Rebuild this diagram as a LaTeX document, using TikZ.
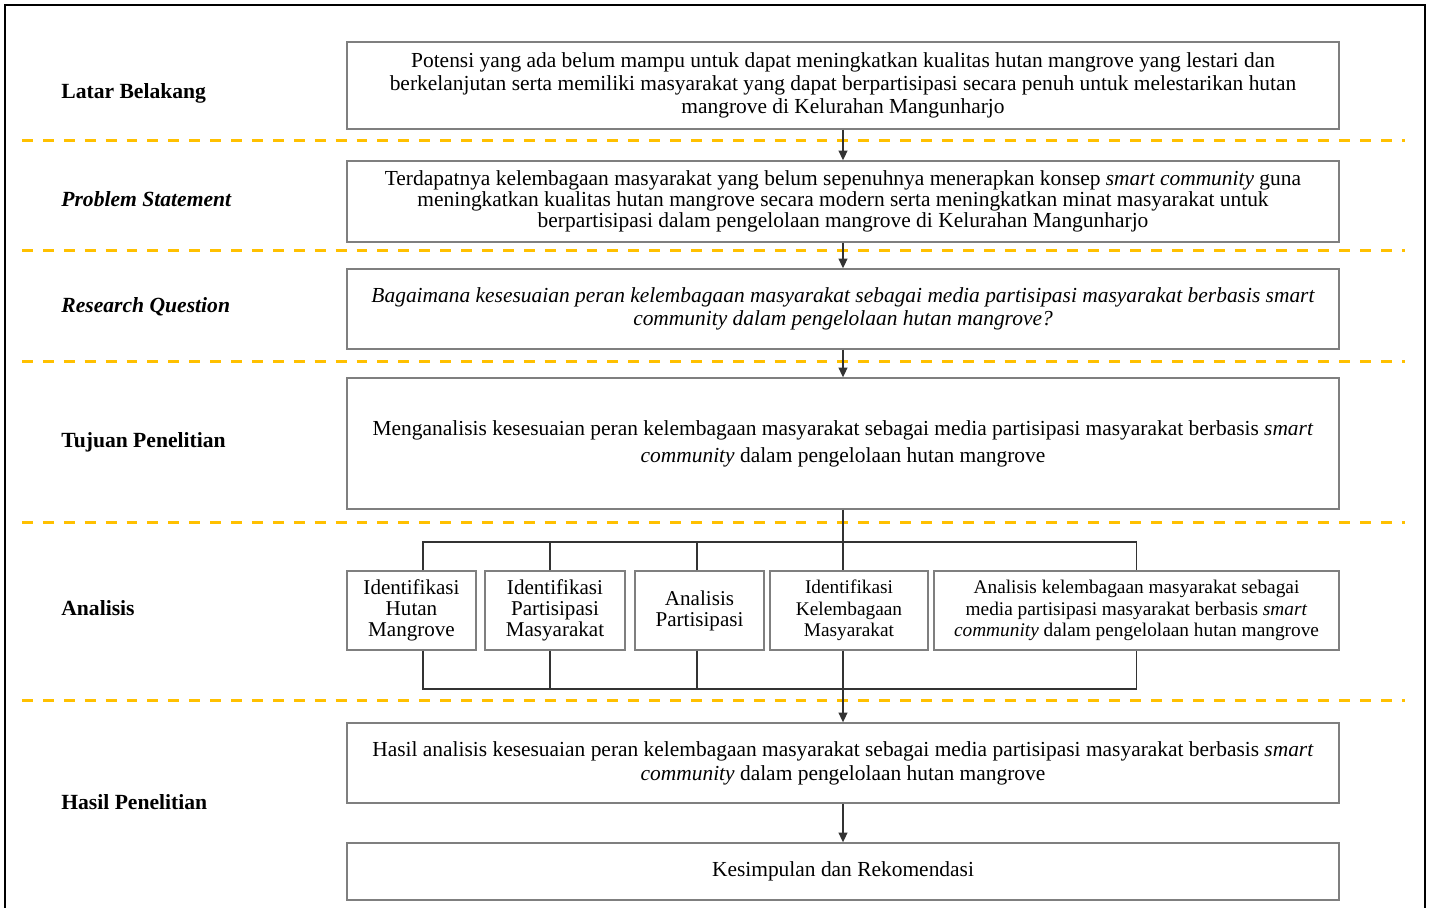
\documentclass[tikz,border=0pt]{standalone}
\usepackage{fontspec}
\setmainfont{Liberation Serif}
\usepackage{tikz}
\usetikzlibrary{arrows.meta,positioning,calc}

\definecolor{dashyellow}{HTML}{FFC000}
\definecolor{boxgray}{HTML}{7F7F7F}
\definecolor{linegray}{HTML}{333333}

\begin{document}
\begin{tikzpicture}[x=0.02cm,y=-0.02cm,>={Triangle[length=5.5pt,width=5pt]},
  box/.style={draw=boxgray,line width=0.8pt,align=center,inner sep=0pt,minimum width=19.84cm,font=\fontsize{12.2}{13}\selectfont},
  subbox/.style={draw=boxgray,line width=0.8pt,align=center,inner sep=0pt,minimum height=1.58cm,font=\fontsize{12}{12}\selectfont},
  lbl/.style={anchor=west,inner sep=0pt,font=\fontsize{12.3}{14}\selectfont\bfseries},
  conn/.style={draw=linegray,line width=0.8pt}]
  \useasboundingbox (0,0) rectangle (1433,907);
  % frame (bottom edge cut off)
  \draw[line width=1.1pt] (5,912) -- (5,5) -- (1425,5) -- (1425,912);
  % section separators
  \foreach \y in {140,250,361,522,700}
    \draw[dashyellow,line width=1.7pt,dash pattern=on 6.2pt off 5.7pt] (22,\y) -- (1405,\y);
  % section labels
  \node[lbl] (lLatar) at (61,93) {Latar Belakang};
  \node[lbl] (lProblem) at (61,199) {\textit{Problem Statement}};
  \node[lbl] (lResearch) at (61,307) {\textit{Research Question}};
  \node[lbl] (lTujuan) at (61,442) {Tujuan Penelitian};
  \node[lbl] (lAnalisis) at (61,608) {Analisis};
  \node[lbl] (lHasil) at (61,802) {Hasil Penelitian};
  % main boxes
  \node[box,minimum height=1.74cm] (latar) at (843,85.5) {Potensi yang ada belum mampu untuk dapat meningkatkan kualitas hutan mangrove yang lestari dan\\berkelanjutan serta memiliki masyarakat yang dapat berpartisipasi secara penuh untuk melestarikan hutan\\mangrove di Kelurahan Mangunharjo};
  \node[box,minimum height=1.62cm,font=\fontsize{12.2}{11.9}\selectfont] (problem) at (843,201.5) {Terdapatnya kelembagaan masyarakat yang belum sepenuhnya menerapkan konsep \textit{smart community} guna\\meningkatkan kualitas hutan mangrove secara modern serta meningkatkan minat masyarakat untuk\\berpartisipasi dalam pengelolaan mangrove di Kelurahan Mangunharjo};
  \node[box,minimum height=1.6cm,font=\fontsize{12.2}{13}\selectfont\itshape] (research) at (843,309) {Bagaimana kesesuaian peran kelembagaan masyarakat sebagai media partisipasi masyarakat berbasis smart\\community dalam pengelolaan hutan mangrove?};
  \node[box,minimum height=2.62cm,font=\fontsize{12.2}{15.3}\selectfont] (tujuan) at (843,443.5) {Menganalisis kesesuaian peran kelembagaan masyarakat sebagai media partisipasi masyarakat berbasis \textit{smart}\\\textit{community} dalam pengelolaan hutan mangrove};
  \node[box,minimum height=1.6cm,font=\fontsize{12.2}{13.6}\selectfont] (hasil) at (843,763) {Hasil analisis kesesuaian peran kelembagaan masyarakat sebagai media partisipasi masyarakat berbasis \textit{smart}\\\textit{community} dalam pengelolaan hutan mangrove};
  \node[box,minimum height=1.14cm] (kesimpulan) at (843,871.5) {Kesimpulan dan Rekomendasi};
  % analysis boxes
  \node[subbox,minimum width=2.58cm] (a1) at (411.5,610.5) {Identifikasi\\Hutan\\Mangrove};
  \node[subbox,minimum width=2.8cm] (a2) at (555,610.5) {Identifikasi\\Partisipasi\\Masyarakat};
  \node[subbox,minimum width=2.58cm] (a3) at (699.5,610.5) {Analisis\\Partisipasi};
  \node[subbox,minimum width=3.16cm,font=\fontsize{11}{12.2}\selectfont] (a4) at (849,610.5) {Identifikasi\\Kelembagaan\\Masyarakat};
  \node[subbox,minimum width=8.1cm,font=\fontsize{11}{12.2}\selectfont] (a5) at (1136.5,610.5) {Analisis kelembagaan masyarakat sebagai\\media partisipasi masyarakat berbasis \textit{smart}\\\textit{community} dalam pengelolaan hutan mangrove};
  \coordinate (bt) at (843,542);
  \coordinate (bb) at (843,689);
  % connectors
  \draw[conn,->] (latar.south) -- (problem.north);
  \draw[conn,->] (problem.south) -- (research.north);
  \draw[conn,->] (research.south) -- (tujuan.north);
  \draw[conn] (tujuan.south) -- (tujuan.south |- a4.north);
  \draw[conn] ([xshift=0.23cm]a1.north) -- ([xshift=0.23cm]a1.north |- bt) -- (a5.north |- bt) -- (a5.north);
  \draw[conn] ([xshift=0.23cm]a1.south) -- ([xshift=0.23cm]a1.south |- bb) -- (a5.south |- bb) -- (a5.south);
  \foreach \n/\dx in {a2/-0.1cm,a3/-0.05cm} {
    \draw[conn] ([xshift=\dx]\n.north) -- ([xshift=\dx]\n.north |- bt);
    \draw[conn] ([xshift=\dx]\n.south) -- ([xshift=\dx]\n.south |- bb);
  }
  \draw[conn,->] (tujuan.south |- a4.south) -- (hasil.north);
  \draw[conn,->] (hasil.south) -- (kesimpulan.north);
\end{tikzpicture}
\end{document}
